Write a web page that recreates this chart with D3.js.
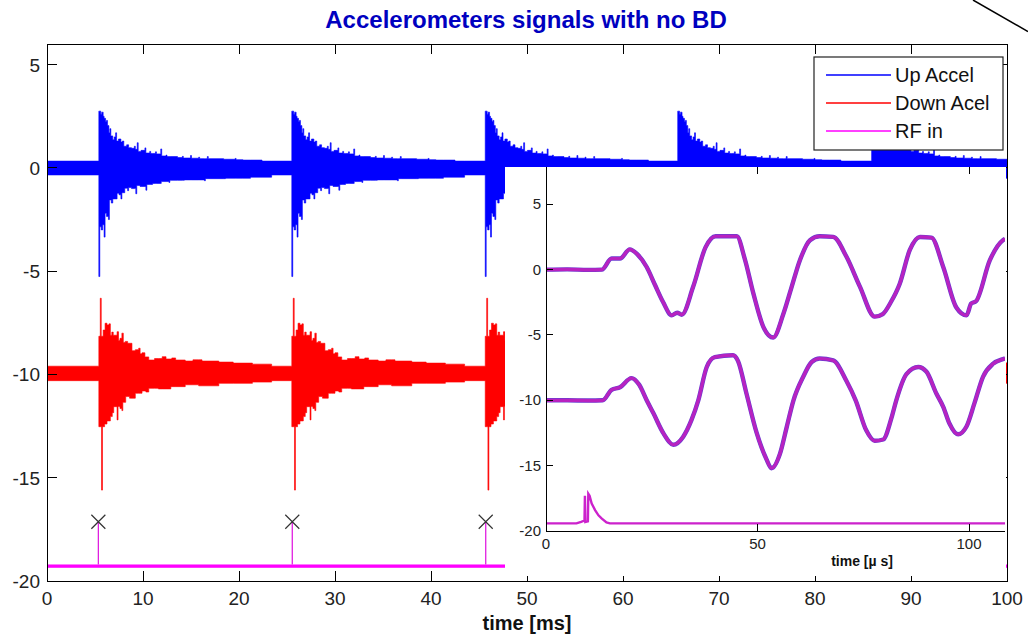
<!DOCTYPE html>
<html lang="en">
<head>
  <meta charset="UTF-8" />
  <title>Accelerometers signals with no BD</title>
  <script src="https://d3js.org/d3.v7.min.js"></script>
  <style>
    body {
      margin: 0;
      padding: 0;
      background: white;
    }

    svg {
      display: block;
      font-family: "Liberation Sans", Arial, sans-serif;
    }

    .tick-label {
      fill: #222;
      font-size: 19px;
    }

    .inset-label {
      fill: #222;
      font-size: 15px;
    }

    .tick, .frame {
      stroke: #000;
      stroke-width: 1px;
      fill: none;
      shape-rendering: crispEdges;
    }
  </style>
</head>
<body>
  <svg id="chart" width="1028" height="635"></svg>

  <script>
    // ---- values ----
    const burstTimes = [5.4, 25.5, 45.65, 65.7, 85.9];      // ms, start of each accelerometer burst
    const rfPulseTimes = [5.35, 25.55, 45.7, 65.75, 85.9];  // ms, RF pulses (stem + X)
    const rfPeak = -17.13;
    const rfBase = [-19.2, -19.36];

    // burst envelopes: [ms after onset, offset from the trace level]
    const upLevel = 0;
    const upBase = [0.33, -0.34];
    const upBurstHi = [
      [0, 2.75], [0.2, 2.6], [0.3, 2.7], [0.45, 2.5], [0.55, 2.4], [0.7, 2.25], [0.8, 2.3], [0.9, 2.05],
      [1.05, 1.7], [1.15, 1.9], [1.25, 1.55], [1.45, 1.36], [1.6, 1.5], [1.75, 1.7], [1.85, 1.3],
      [2.05, 1.4], [2.3, 1.25], [2.45, 1.3], [2.6, 1.05], [2.9, 1.12], [3.1, 0.98], [3.4, 0.95],
      [3.7, 1.05], [3.8, 0.9], [4.0, 1.22], [4.1, 0.8], [4.4, 0.85], [4.8, 0.97], [4.9, 0.72],
      [5.3, 0.8], [5.4, 0.7], [5.9, 0.78], [6.0, 0.68], [6.45, 0.92], [6.55, 0.58], [7.0, 0.62],
      [7.1, 0.55], [7.5, 0.55], [8.2, 0.5], [8.7, 0.56], [8.8, 0.48], [9.55, 0.6], [9.65, 0.47],
      [10.4, 0.52], [10.5, 0.45], [11.3, 0.55], [11.4, 0.45], [13, 0.42], [14.2, 0.46], [14.3, 0.4],
      [15, 0.38], [17, 0.33]
    ];
    const upBurstLo = [
      [0, -5.26], [0.1, -2.85], [0.25, -3.0], [0.4, -2.75], [0.55, -3.35], [0.65, -2.2], [0.8, -2.35],
      [1.0, -2.5], [1.1, -1.55], [1.3, -1.7], [1.45, -1.5], [1.6, -1.5], [1.9, -1.23], [2.1, -1.3],
      [2.3, -1.5], [2.4, -1.2], [2.7, -0.98], [3.0, -1.1], [3.1, -0.95], [3.4, -1.0], [3.85, -1.25],
      [3.95, -0.85], [4.3, -0.9], [4.9, -1.08], [5.0, -0.8], [5.6, -0.75], [6.5, -0.66], [7.3, -0.7],
      [7.4, -0.6], [8.9, -0.58], [11.0, -0.62], [11.1, -0.52], [13.2, -0.5], [15.8, -0.45], [18, -0.34]
    ];

    const downLevel = -9.95;
    const downBase = [0.35, -0.35];
    const downBurstHi = [
      [0, 1.8], [0.15, 3.64], [0.25, 1.8], [0.45, 2.1], [0.65, 2.43], [0.85, 2.35], [1.05, 2.4],
      [1.2, 1.85], [1.35, 2.0], [1.5, 1.85], [1.9, 2.02], [2.05, 1.6], [2.2, 1.7], [2.4, 1.95],
      [2.55, 1.5], [2.75, 1.55], [3.0, 1.46], [3.3, 1.46], [3.45, 1.1], [3.8, 1.15], [4.15, 1.22],
      [4.3, 0.95], [4.5, 1.0], [4.8, 0.8], [5.2, 0.65], [5.8, 0.72], [6.6, 0.81], [7.0, 0.7],
      [7.6, 0.75], [8.0, 0.65], [9.0, 0.6], [9.8, 0.66], [10.75, 0.6], [12.5, 0.55], [14, 0.5],
      [16, 0.45], [18, 0.35]
    ];
    const downBurstLo = [
      [0, -2.58], [0.28, -5.65], [0.38, -2.58], [0.6, -2.45], [0.85, -2.3], [1.2, -2.09], [1.4, -1.9],
      [1.55, -1.61], [1.9, -2.25], [2.0, -1.6], [2.2, -1.7], [2.4, -1.8], [2.5, -1.4], [2.8, -1.12],
      [3.2, -1.2], [3.8, -0.96], [4.5, -0.85], [4.9, -0.9], [5.2, -0.72], [6.2, -0.75], [7.5, -0.64],
      [9.0, -0.55], [10.4, -0.6], [12.5, -0.48], [16, -0.42], [18, -0.35]
    ];

    const xTicks = [0, 10, 20, 30, 40, 50, 60, 70, 80, 90, 100];
    const yTicks = [-20, -15, -10, -5, 0, 5];

    const legendItems = ["Up Accel", "Down Acel", "RF in"];
    const seriesColors = ["#0000ff", "#ff0000", "#ff00ff"];

    // inset: one pulse, time in µs  [t, value]
    const insetUpTrace = [
      [0, 0], [5, 0.02], [10, -0.02], [13.2, 0], [15.5, 0.85], [17.5, 0.85], [19.8, 1.55], [21.5, 1.2],
      [23.8, 0.2], [25.8, -1.2], [27.7, -2.5], [29.7, -3.5], [31, -3.3], [32.1, -3.45], [34.8, -1.3],
      [37.7, 1.7], [40.1, 2.55], [45.1, 2.55], [47, 0.8], [49, -1.8], [51.4, -4.4], [53.7, -5.2],
      [56.1, -3.4], [58, -1.4], [60, 0.7], [62.4, 2.25], [64.7, 2.55], [67.9, 2.5], [71, 1.0],
      [74.2, -1.3], [77.7, -3.6], [79.6, -3.4], [81.5, -2.5], [83.6, -1.1], [86, 1.5], [88.4, 2.5],
      [91.1, 2.45], [93.9, 0.2], [97, -2.9], [99.4, -3.5], [100.5, -2.6], [101.7, -2.4], [104.9, 0.7],
      [108, 2.25], [108.5, 2.35]
    ];
    const insetDownTrace = [
      [0, -10], [5, -10], [10, -10.02], [13.4, -10], [15.5, -9.2], [17.5, -9.0], [20.2, -8.3], [22, -8.8],
      [23.8, -10.0], [25.4, -11.0], [27.8, -12.55], [30.1, -13.4], [32.4, -12.8], [34.4, -11.5],
      [36.0, -10.0], [38.0, -7.45], [39.9, -6.7], [44.2, -6.55], [45.4, -7.0], [47.4, -9.5],
      [49.8, -12.5], [52.1, -14.5], [53.3, -15.2], [55.3, -14.1], [56.9, -12.05], [58.5, -10.0],
      [60.8, -8.2], [62.8, -7.07], [64.7, -6.8], [67.9, -6.95], [71.0, -8.5], [73.2, -10.0],
      [75.7, -12.3], [77.7, -13.1], [79.7, -13.0], [81.7, -11.3], [82.8, -10.0], [85.2, -8.0],
      [88.0, -7.45], [89.9, -7.8], [92.3, -9.5], [93.9, -10.5], [95.4, -11.8], [97.4, -12.6],
      [99.4, -12.0], [101.3, -10.2], [103.3, -8.2], [105.7, -7.2], [108.0, -6.85], [108.5, -6.8]
    ];
    const insetRfTrace = [
      [0, -19.42], [7.2, -19.42], [8.3, -19.3], [9.1, -19.2], [9.2, -17.3], [9.3, -19.3], [9.9, -19.25],
      [10.0, -17.15], [10.3, -17.3], [10.8, -17.9], [11.6, -18.4], [12.4, -18.8], [13.2, -19.05],
      [14.3, -19.35], [15.1, -19.42], [108.5, -19.42]
    ];
    const insetXTicks = [0, 50, 100];
    const insetYTicks = [-20, -15, -10, -5, 0, 5];

    // ---- layout ----
    const plot = { left: 47, right: 1007, top: 44, bottom: 581 };
    const inset = { left: 546, right: 1005, top: 167, bottom: 531 };
    const tickLen = 10;

    const svg = d3.select("#chart");

    const x = d3.scaleLinear().domain([0, 100]).range([plot.left, plot.right]);
    const y = d3.scaleLinear().domain([-20, 6]).range([plot.bottom, plot.top]);

    svg.append("clipPath").attr("id", "main-clip")
      .append("rect")
      .attr("x", plot.left).attr("y", plot.top)
      .attr("width", plot.right - plot.left).attr("height", plot.bottom - plot.top);

    // one edge of a trace = flat baseline + envelope at every burst
    function buildEdge(level, base, burst) {
      const pts = [[0, level + base]];
      burstTimes.forEach(t0 => {
        pts.push([t0, level + base]);
        burst.forEach(d => pts.push([t0 + d[0], level + d[1]]));
      });
      return pts;
    }

    function stepValue(edge, t) {
      let v = edge[0][1];
      for (const d of edge) {
        if (d[0] <= t) v = d[1];
        else break;
      }
      return v;
    }

    // both edges on a shared time grid so the band is one filled shape
    function buildBand(level, base, hiBurst, loBurst) {
      const hi = buildEdge(level, base[0], hiBurst);
      const lo = buildEdge(level, base[1], loBurst);
      const times = Array.from(new Set(hi.concat(lo).map(d => d[0]).concat([100])))
        .filter(t => t <= 100)
        .sort((a, b) => a - b);
      return times.map(t => ({ t, hi: stepValue(hi, t), lo: stepValue(lo, t) }));
    }

    const main = svg.append("g").attr("clip-path", "url(#main-clip)");

    const bandArea = d3.area()
      .x(d => x(d.t))
      .y0(d => y(d.lo))
      .y1(d => y(d.hi))
      .curve(d3.curveStepAfter);

    [[upLevel, upBase, upBurstHi, upBurstLo], [downLevel, downBase, downBurstHi, downBurstLo]]
      .forEach(([level, base, hi, lo], i) => {
        main.append("path")
          .datum(buildBand(level, base, hi, lo))
          .attr("d", bandArea)
          .attr("fill", seriesColors[i])
          .attr("stroke", seriesColors[i])
          .attr("stroke-width", 0.6);
      });

    // RF in: thin baseline and stems
    main.append("rect")
      .attr("x", x(0)).attr("width", x(100) - x(0))
      .attr("y", y(rfBase[0])).attr("height", y(rfBase[1]) - y(rfBase[0]))
      .attr("fill", seriesColors[2]);

    main.selectAll(".rf-stem")
      .data(rfPulseTimes)
      .join("line")
      .attr("class", "rf-stem")
      .attr("x1", d => x(d)).attr("x2", d => x(d))
      .attr("y1", y(rfBase[0])).attr("y2", y(rfPeak))
      .attr("stroke", "#e020e0")
      .attr("stroke-width", 1.3);

    svg.selectAll(".rf-mark")
      .data(rfPulseTimes)
      .join("path")
      .attr("class", "rf-mark")
      .attr("transform", d => `translate(${x(d)},${y(rfPeak)})`)
      .attr("d", "M-7,-7L7,7M-7,7L7,-7")
      .attr("stroke", "#333")
      .attr("stroke-width", 1.2)
      .attr("fill", "none");

    // main ticks, inward on all four sides
    const ticks = svg.append("g");
    xTicks.forEach(v => {
      ticks.append("line").attr("class", "tick")
        .attr("x1", x(v)).attr("x2", x(v)).attr("y1", plot.bottom).attr("y2", plot.bottom - tickLen);
      ticks.append("line").attr("class", "tick")
        .attr("x1", x(v)).attr("x2", x(v)).attr("y1", plot.top).attr("y2", plot.top + tickLen);
    });
    yTicks.forEach(v => {
      ticks.append("line").attr("class", "tick")
        .attr("x1", plot.left).attr("x2", plot.left + tickLen).attr("y1", y(v)).attr("y2", y(v));
      ticks.append("line").attr("class", "tick")
        .attr("x1", plot.right).attr("x2", plot.right - tickLen).attr("y1", y(v)).attr("y2", y(v));
    });

    svg.selectAll(".x-label")
      .data(xTicks)
      .join("text")
      .attr("class", "tick-label x-label")
      .attr("x", d => x(d))
      .attr("y", 605)
      .attr("text-anchor", "middle")
      .text(d => d);

    svg.selectAll(".y-label")
      .data(yTicks)
      .join("text")
      .attr("class", "tick-label y-label")
      .attr("x", 40)
      .attr("y", d => y(d) + 7)
      .attr("text-anchor", "end")
      .text(d => d);

    svg.append("text")
      .attr("x", 526).attr("y", 28)
      .attr("text-anchor", "middle")
      .style("font-size", "24px").style("font-weight", "bold")
      .style("fill", "#0000c0")
      .text("Accelerometers signals with no BD");

    svg.append("text")
      .attr("x", 527).attr("y", 630)
      .attr("text-anchor", "middle")
      .style("font-size", "20px").style("font-weight", "bold")
      .style("fill", "#111")
      .text("time [ms]");

    // legend
    const legend = svg.append("g");
    legend.append("rect")
      .attr("x", 814).attr("y", 57).attr("width", 189).attr("height", 93)
      .attr("fill", "white").attr("stroke", "#222").attr("stroke-width", 1.2);
    legendItems.forEach((name, i) => {
      const ly = 75 + i * 28;
      legend.append("line")
        .attr("x1", 826).attr("x2", 891).attr("y1", ly).attr("y2", ly)
        .attr("stroke", seriesColors[i]).attr("stroke-width", 1.3);
      legend.append("text")
        .attr("x", 895).attr("y", ly + 7)
        .style("font-size", "20px").style("fill", "#111")
        .text(name);
    });

    // ---- inset ----
    const xi = d3.scaleLinear().domain([0, 108.5]).range([inset.left, inset.right]);
    const yi = d3.scaleLinear().domain([-20, 7.85]).range([inset.bottom, inset.top]);

    svg.append("rect")
      .attr("x", 505).attr("y", inset.top)
      .attr("width", 1006 - 505).attr("height", 576 - inset.top)
      .attr("fill", "white");

    svg.append("clipPath").attr("id", "inset-clip")
      .append("rect")
      .attr("x", inset.left).attr("y", inset.top)
      .attr("width", inset.right - inset.left).attr("height", inset.bottom - inset.top);

    const insetG = svg.append("g").attr("clip-path", "url(#inset-clip)");

    const smooth = d3.line().x(d => xi(d[0])).y(d => yi(d[1])).curve(d3.curveMonotoneX);
    const straight = d3.line().x(d => xi(d[0])).y(d => yi(d[1]));

    [insetUpTrace, insetDownTrace].forEach(trace => {
      insetG.append("path")
        .datum(trace)
        .attr("d", smooth)
        .attr("fill", "none")
        .attr("stroke", "#6a3cd0")
        .attr("stroke-width", 4.4)
        .attr("stroke-linejoin", "round");
      insetG.append("path")
        .datum(trace)
        .attr("d", smooth)
        .attr("fill", "none")
        .attr("stroke", "#b822c0")
        .attr("stroke-width", 3.2)
        .attr("stroke-linejoin", "round");
    });

    insetG.append("path")
      .datum(insetRfTrace)
      .attr("d", straight)
      .attr("fill", "none")
      .attr("stroke", "#cc22cc")
      .attr("stroke-width", 2.4);

    const insetAxis = svg.append("g");
    insetAxis.append("path").attr("class", "frame")
      .attr("d", `M${inset.left},${inset.top}V${inset.bottom}H${inset.right}`);
    insetXTicks.forEach(v => {
      insetAxis.append("line").attr("class", "tick")
        .attr("x1", xi(v)).attr("x2", xi(v)).attr("y1", inset.bottom).attr("y2", inset.bottom - 7);
      insetAxis.append("line").attr("class", "tick")
        .attr("x1", xi(v)).attr("x2", xi(v)).attr("y1", inset.top).attr("y2", inset.top + 7);
    });
    insetYTicks.forEach(v => {
      insetAxis.append("line").attr("class", "tick")
        .attr("x1", inset.left).attr("x2", inset.left + 7).attr("y1", yi(v)).attr("y2", yi(v));
    });

    svg.selectAll(".ix-label")
      .data(insetXTicks)
      .join("text")
      .attr("class", "inset-label ix-label")
      .attr("x", d => xi(d))
      .attr("y", 549)
      .attr("text-anchor", "middle")
      .text(d => d);

    svg.selectAll(".iy-label")
      .data(insetYTicks)
      .join("text")
      .attr("class", "inset-label iy-label")
      .attr("x", 541)
      .attr("y", d => yi(d) + 5)
      .attr("text-anchor", "end")
      .text(d => d);

    svg.append("text")
      .attr("x", 862).attr("y", 566)
      .attr("text-anchor", "middle")
      .style("font-size", "14px").style("font-weight", "bold")
      .style("fill", "#111")
      .text("time [µ s]");

    // main frame on top
    svg.append("rect").attr("class", "frame")
      .attr("x", plot.left).attr("y", plot.top)
      .attr("width", plot.right - plot.left).attr("height", plot.bottom - plot.top);

    // stray annotation line in the top right corner
    svg.append("line")
      .attr("x1", 973).attr("y1", 0).attr("x2", 1028).attr("y2", 31.5)
      .attr("stroke", "#000").attr("stroke-width", 1.5);
  </script>
</body>
</html>
